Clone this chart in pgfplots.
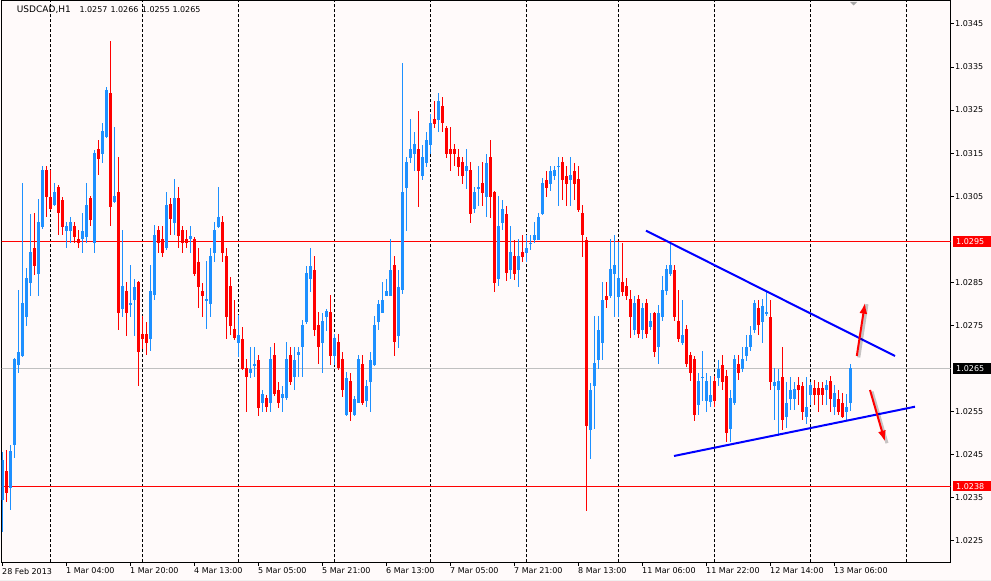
\documentclass[border=0pt]{standalone}
\usepackage{fontspec}
\setmainfont{DejaVu Sans}
\usepackage{pgfplots}
\usepackage{pgfplotstable}
\pgfplotsset{compat=1.18}
\usetikzlibrary{arrows.meta}

\definecolor{bull}{RGB}{30,144,255}
\definecolor{bear}{RGB}{255,0,0}
\definecolor{snowbg}{RGB}{255,250,250}
\definecolor{bidgray}{RGB}{192,192,192}
\definecolor{tline}{RGB}{0,0,255}

% USDCAD H1 candles, bar index, open high low close
\pgfplotstableread{
i o h l c
0 1.02344 1.02456 1.02270 1.02437
2 1.02372 1.02472 1.02321 1.02460
3 1.02472 1.02674 1.02442 1.02672
4 1.02658 1.02832 1.02640 1.02689
5 1.02679 1.03081 1.02676 1.02803
6 1.02770 1.02883 1.02748 1.02861
7 1.02849 1.03011 1.02820 1.02921
9 1.02869 1.03043 1.02818 1.02991
10 1.02979 1.03121 1.02976 1.03111
13 1.03030 1.03081 1.03027 1.03060
16 1.02970 1.02991 1.02930 1.02981
17 1.02970 1.03002 1.02941 1.02991
20 1.02951 1.03011 1.02919 1.02971
21 1.02957 1.03081 1.02941 1.03030
23 1.02941 1.03159 1.02919 1.03151
25 1.03148 1.03221 1.03128 1.03201
26 1.03188 1.03304 1.03185 1.03298
28 1.03037 1.03211 1.03034 1.03050
30 1.02788 1.02971 1.02770 1.02841
32 1.02799 1.02890 1.02770 1.02801
33 1.02809 1.02860 1.02727 1.02841
37 1.02720 1.02890 1.02689 1.02830
38 1.02820 1.02983 1.02809 1.02960
41 1.02930 1.03060 1.02925 1.03030
43 1.02988 1.03090 1.02960 1.03046
47 1.02951 1.02981 1.02919 1.02960
51 1.02809 1.02899 1.02741 1.02811
52 1.02801 1.02930 1.02770 1.02911
53 1.02919 1.02991 1.02898 1.02971
54 1.02979 1.03072 1.02976 1.03002
59 1.02710 1.02774 1.02677 1.02729
62 1.02640 1.02700 1.02628 1.02651
63 1.02659 1.02700 1.02631 1.02660
65 1.02569 1.02600 1.02549 1.02590
67 1.02570 1.02700 1.02549 1.02672
70 1.02581 1.02611 1.02549 1.02590
71 1.02581 1.02710 1.02576 1.02672
73 1.02631 1.02700 1.02600 1.02671
74 1.02681 1.02700 1.02631 1.02689
75 1.02700 1.02762 1.02631 1.02751
76 1.02758 1.02890 1.02755 1.02871
77 1.02859 1.02929 1.02828 1.02890
80 1.02710 1.02779 1.02640 1.02760
81 1.02770 1.02790 1.02739 1.02782
83 1.02679 1.02730 1.02658 1.02720
86 1.02542 1.02641 1.02539 1.02629
88 1.02542 1.02586 1.02539 1.02581
89 1.02570 1.02681 1.02569 1.02671
91 1.02576 1.02623 1.02561 1.02611
92 1.02619 1.02689 1.02549 1.02671
93 1.02658 1.02772 1.02655 1.02751
94 1.02758 1.02810 1.02739 1.02801
95 1.02779 1.02851 1.02778 1.02810
96 1.02820 1.02859 1.02818 1.02830
97 1.02820 1.02950 1.02818 1.02880
99 1.02727 1.02880 1.02697 1.02841
100 1.02834 1.03360 1.02825 1.03060
101 1.03070 1.03142 1.02970 1.03129
102 1.03139 1.03229 1.03128 1.03160
103 1.03148 1.03201 1.03109 1.03171
105 1.03098 1.03171 1.03088 1.03142
106 1.03128 1.03201 1.03119 1.03181
107 1.03169 1.03241 1.03148 1.03219
109 1.03229 1.03289 1.03200 1.03271
116 1.03109 1.03160 1.03068 1.03121
118 1.03020 1.03072 1.03013 1.03060
119 1.03070 1.03121 1.03027 1.03071
121 1.03049 1.03150 1.03002 1.03129
124 1.02857 1.03050 1.02841 1.02981
125 1.02988 1.03041 1.02971 1.03020
127 1.02879 1.02981 1.02857 1.02921
129 1.02879 1.02950 1.02840 1.02911
131 1.02919 1.02960 1.02898 1.02930
132 1.02941 1.02960 1.02925 1.02942
133 1.02950 1.02991 1.02941 1.02960
134 1.02950 1.03010 1.02948 1.03002
135 1.03010 1.03092 1.03006 1.03081
137 1.03080 1.03121 1.03064 1.03111
138 1.03097 1.03121 1.03088 1.03111
139 1.03120 1.03142 1.03027 1.03121
142 1.03088 1.03142 1.03027 1.03099
147 1.02509 1.02616 1.02439 1.02602
148 1.02609 1.02772 1.02509 1.02662
149 1.02671 1.02772 1.02650 1.02741
150 1.02710 1.02851 1.02671 1.02810
152 1.02818 1.02950 1.02813 1.02880
153 1.02869 1.02960 1.02770 1.02890
154 1.02818 1.02944 1.02770 1.02861
158 1.02739 1.02818 1.02727 1.02801
160 1.02741 1.02801 1.02717 1.02791
162 1.02748 1.02779 1.02739 1.02760
164 1.02700 1.02797 1.02660 1.02779
165 1.02770 1.02865 1.02762 1.02832
166 1.02830 1.02890 1.02820 1.02880
167 1.02869 1.02944 1.02865 1.02890
170 1.02710 1.02810 1.02704 1.02729
174 1.02565 1.02640 1.02542 1.02621
175 1.02629 1.02691 1.02576 1.02631
176 1.02576 1.02640 1.02549 1.02621
177 1.02572 1.02631 1.02561 1.02590
179 1.02629 1.02671 1.02611 1.02650
182 1.02511 1.02600 1.02480 1.02581
183 1.02570 1.02681 1.02565 1.02671
185 1.02650 1.02700 1.02641 1.02671
186 1.02679 1.02729 1.02669 1.02700
187 1.02700 1.02751 1.02693 1.02729
188 1.02739 1.02810 1.02734 1.02801
190 1.02758 1.02810 1.02708 1.02795
191 1.02779 1.02830 1.02772 1.02780
193 1.02609 1.02650 1.02530 1.02619
194 1.02600 1.02650 1.02495 1.02619
196 1.02539 1.02619 1.02511 1.02572
197 1.02580 1.02631 1.02553 1.02601
198 1.02580 1.02619 1.02553 1.02604
201 1.02538 1.02631 1.02522 1.02561
202 1.02588 1.02619 1.02565 1.02611
206 1.02600 1.02623 1.02565 1.02611
208 1.02561 1.02611 1.02542 1.02592
211 1.02549 1.02592 1.02530 1.02561
212 1.02570 1.02660 1.02550 1.02650
}\bullbars

\pgfplotstableread{
i o h l c
1 1.02411 1.02460 1.02339 1.02360
8 1.02930 1.03012 1.02867 1.02888
11 1.03111 1.03121 1.03002 1.03049
12 1.03048 1.03112 1.03018 1.03020
14 1.03072 1.03076 1.02960 1.03011
15 1.03041 1.03050 1.02960 1.02979
18 1.02981 1.02991 1.02941 1.02957
19 1.02951 1.02971 1.02930 1.02941
22 1.03046 1.03050 1.02981 1.02995
24 1.03160 1.03181 1.03099 1.03138
27 1.03290 1.03411 1.02981 1.03026
29 1.03060 1.03142 1.02739 1.02779
31 1.02830 1.02851 1.02727 1.02779
34 1.02851 1.02853 1.02609 1.02689
35 1.02730 1.02774 1.02697 1.02720
36 1.02730 1.02758 1.02681 1.02710
39 1.02971 1.02981 1.02918 1.02941
40 1.02951 1.02981 1.02909 1.02919
42 1.03034 1.03046 1.02960 1.02999
44 1.03046 1.03072 1.02930 1.02957
45 1.02971 1.02981 1.02919 1.02941
46 1.02951 1.02971 1.02930 1.02941
48 1.02951 1.02957 1.02865 1.02869
49 1.02899 1.02930 1.02790 1.02841
50 1.02830 1.02849 1.02770 1.02820
55 1.02991 1.03006 1.02898 1.02919
56 1.02911 1.02930 1.02720 1.02770
57 1.02841 1.02861 1.02727 1.02748
58 1.02741 1.02810 1.02716 1.02720
60 1.02720 1.02748 1.02646 1.02650
61 1.02651 1.02672 1.02549 1.02629
64 1.02671 1.02681 1.02540 1.02559
66 1.02581 1.02588 1.02549 1.02560
68 1.02681 1.02710 1.02586 1.02590
69 1.02600 1.02619 1.02559 1.02570
72 1.02681 1.02700 1.02611 1.02619
78 1.02880 1.02911 1.02727 1.02741
79 1.02751 1.02782 1.02660 1.02700
82 1.02781 1.02820 1.02658 1.02679
84 1.02712 1.02730 1.02646 1.02650
85 1.02671 1.02689 1.02584 1.02600
87 1.02621 1.02641 1.02528 1.02549
90 1.02660 1.02681 1.02565 1.02570
98 1.02890 1.02911 1.02679 1.02710
104 1.03160 1.03250 1.03027 1.03109
108 1.03229 1.03271 1.03209 1.03218
110 1.03260 1.03281 1.03200 1.03219
111 1.03210 1.03213 1.03139 1.03148
112 1.03160 1.03210 1.03109 1.03148
113 1.03160 1.03171 1.03119 1.03148
114 1.03142 1.03160 1.03098 1.03119
115 1.03129 1.03142 1.03078 1.03098
117 1.03111 1.03129 1.02988 1.03010
120 1.03081 1.03129 1.03027 1.03058
122 1.03142 1.03181 1.02999 1.03049
123 1.03060 1.03064 1.02828 1.02849
126 1.03010 1.03027 1.02855 1.02871
128 1.02911 1.02950 1.02857 1.02869
130 1.02921 1.02960 1.02897 1.02909
136 1.03090 1.03109 1.03049 1.03071
140 1.03129 1.03142 1.03041 1.03088
141 1.03099 1.03121 1.03027 1.03080
143 1.03111 1.03129 1.03041 1.03080
144 1.03090 1.03121 1.03013 1.03018
145 1.03010 1.03030 1.02909 1.02960
146 1.02950 1.02957 1.02319 1.02518
151 1.02820 1.02851 1.02790 1.02810
155 1.02851 1.02942 1.02818 1.02828
156 1.02841 1.02859 1.02809 1.02818
157 1.02810 1.02832 1.02720 1.02770
159 1.02810 1.02820 1.02720 1.02729
161 1.02801 1.02810 1.02720 1.02729
163 1.02779 1.02782 1.02677 1.02689
168 1.02880 1.02890 1.02760 1.02770
169 1.02760 1.02832 1.02710 1.02720
171 1.02741 1.02751 1.02655 1.02660
172 1.02681 1.02688 1.02619 1.02640
173 1.02671 1.02681 1.02528 1.02542
178 1.02621 1.02632 1.02561 1.02576
180 1.02660 1.02681 1.02600 1.02619
181 1.02631 1.02646 1.02480 1.02499
184 1.02660 1.02681 1.02623 1.02640
189 1.02791 1.02810 1.02727 1.02751
192 1.02770 1.02810 1.02600 1.02619
195 1.02631 1.02700 1.02508 1.02530
199 1.02611 1.02631 1.02565 1.02600
200 1.02611 1.02619 1.02530 1.02549
203 1.02604 1.02623 1.02565 1.02588
204 1.02604 1.02619 1.02549 1.02588
205 1.02604 1.02619 1.02565 1.02588
207 1.02623 1.02631 1.02549 1.02580
209 1.02580 1.02600 1.02542 1.02549
210 1.02572 1.02592 1.02535 1.02539
}\bearbars

\pgfplotsset{
  wick/.style={draw=none, mark=none, forget plot,
    error bars/.cd, y dir=both, y explicit, error mark=none,
    error bar style={draw=#1, solid, line width=1pt}},
  body/.style={draw=none, mark=none, forget plot,
    error bars/.cd, y dir=both, y explicit, error mark=none,
    error bar style={draw=#1, solid, line width=3pt}},
}

\begin{document}
\begin{tikzpicture}
\fill[snowbg] (-1.7pt,-18.7pt) rectangle (989.3pt,562.3pt);
\useasboundingbox (-1.7pt,-18.7pt) rectangle (989.3pt,562.3pt);
\fill[black!6] (-1.7pt,-18.7pt) rectangle (989.3pt,-17.3pt);
\begin{axis}[
  at={(0,0)}, anchor=south west,
  scale only axis, width=949pt, height=561.3pt,
  xmin=-0.075, xmax=237.175,
  ymin=1.021993, ymax=1.035034,
  axis background/.style={fill=snowbg},
  axis line style={line width=1pt, black},
  clip mode=individual,
  tick align=outside,
  major tick length=3.5pt,
  every tick/.style={black, line width=1pt},
  xtick pos=bottom, ytick pos=right, yticklabel pos=right,
  xtick={0,16,32,48,64,80,96,112,128,144,160,176,192,208},
  xticklabels={28 Feb 2013,1 Mar 04:00,1 Mar 20:00,4 Mar 13:00,5 Mar 05:00,5 Mar 21:00,6 Mar 13:00,7 Mar 05:00,7 Mar 21:00,8 Mar 13:00,11 Mar 06:00,11 Mar 22:00,12 Mar 14:00,13 Mar 06:00},
  ytick={1.0225,1.0235,1.0245,1.0255,1.0275,1.0285,1.0305,1.0315,1.0325,1.0335,1.0345},
  yticklabels={1.0225,1.0235,1.0245,1.0255,1.0275,1.0285,1.0305,1.0315,1.0325,1.0335,1.0345},
  tick label style={font=\fontsize{8}{9.6}\selectfont, black},
  xticklabel style={anchor=north west, inner sep=0pt, yshift=-2pt},
  yticklabel style={anchor=west, inner sep=0pt, xshift=0.8pt},
  extra x ticks={12,35,59,83,107,131,154,178,202,226},
  extra x tick labels={},
  extra x tick style={grid=major, major tick length=0pt},
  major grid style={black, line width=1pt, dash pattern=on 3pt off 2pt},
]
% horizontal levels
\addplot[bear, line width=1pt, forget plot] coordinates {(-2,1.02945) (240,1.02945)};
\addplot[bidgray, line width=1pt, forget plot] coordinates {(-2,1.0265) (240,1.0265)};
\addplot[bear, line width=1pt, forget plot] coordinates {(-2,1.02376) (240,1.02376)};

% candles
\addplot[wick=bull] table[x=i, y expr={(\thisrow{h}+\thisrow{l})/2}, y error expr={(\thisrow{h}-\thisrow{l})/2}] {\bullbars};
\addplot[body=bull] table[x=i, y expr={(\thisrow{o}+\thisrow{c})/2}, y error expr={max(abs(\thisrow{c}-\thisrow{o})/2,0.000012)}] {\bullbars};
\addplot[wick=bear] table[x=i, y expr={(\thisrow{h}+\thisrow{l})/2}, y error expr={(\thisrow{h}-\thisrow{l})/2}] {\bearbars};
\addplot[body=bear] table[x=i, y expr={(\thisrow{o}+\thisrow{c})/2}, y error expr={max(abs(\thisrow{c}-\thisrow{o})/2,0.000012)}] {\bearbars};

% triangle trend lines
\addplot[tline, line width=2pt, forget plot] coordinates {(161,1.029698) (223.25,1.026786)};
\addplot[tline, line width=2pt, forget plot] coordinates {(168,1.024463) (228.25,1.025608)};

% breakout arrows
\addplot[black, opacity=0.22, line width=3pt, xshift=2pt, yshift=-1.5pt, forget plot] coordinates {(213.7,1.026786) (215.75,1.028025)};
\addplot[bear, line width=2pt, -{Latex[length=11pt,width=8pt]}, forget plot] coordinates {(213.7,1.026786) (215.75,1.028025)};
\addplot[black, opacity=0.22, line width=3pt, xshift=2pt, yshift=-1.5pt, forget plot] coordinates {(217,1.025996) (220.75,1.024795)};
\addplot[bear, line width=2pt, -{Latex[length=11pt,width=8pt]}, forget plot] coordinates {(217,1.025996) (220.75,1.024795)};

% price boxes on the scale
\fill[bear] ([xshift=2pt,yshift=-5.2pt]axis cs:237.175,1.02945) rectangle ([xshift=42pt,yshift=5.2pt]axis cs:237.175,1.02945);
\node[anchor=west, inner sep=0pt, text=white, font=\fontsize{8}{9.6}\selectfont] at ([xshift=5.3pt]axis cs:237.175,1.02945) {1.0295};
\fill[black] ([xshift=2pt,yshift=-5.2pt]axis cs:237.175,1.0265) rectangle ([xshift=42pt,yshift=5.2pt]axis cs:237.175,1.0265);
\node[anchor=west, inner sep=0pt, text=white, font=\fontsize{8}{9.6}\selectfont] at ([xshift=5.3pt]axis cs:237.175,1.0265) {1.0265};
\fill[bear] ([xshift=2pt,yshift=-5.2pt]axis cs:237.175,1.02376) rectangle ([xshift=42pt,yshift=5.2pt]axis cs:237.175,1.02376);
\node[anchor=west, inner sep=0pt, text=white, font=\fontsize{8}{9.6}\selectfont] at ([xshift=5.3pt]axis cs:237.175,1.02376) {1.0238};
\end{axis}
% chart caption line and shift marker
\begin{scope}[every node/.style={anchor=west, inner sep=0pt, font=\fontsize{8}{9.6}\selectfont}]
\node[font=\fontsize{9}{10.8}\selectfont] at (15pt,552.3pt) {USDCAD,H1};
\node at (77.6pt,552.3pt) {1.0257};
\node at (108.6pt,552.3pt) {1.0266};
\node at (140pt,552.3pt) {1.0255};
\node at (170.6pt,552.3pt) {1.0265};
\end{scope}
\fill[black!35] (848.3pt,560.3pt) -- (855.3pt,560.3pt) -- (851.8pt,556.8pt) -- cycle;
\end{tikzpicture}
\end{document}
